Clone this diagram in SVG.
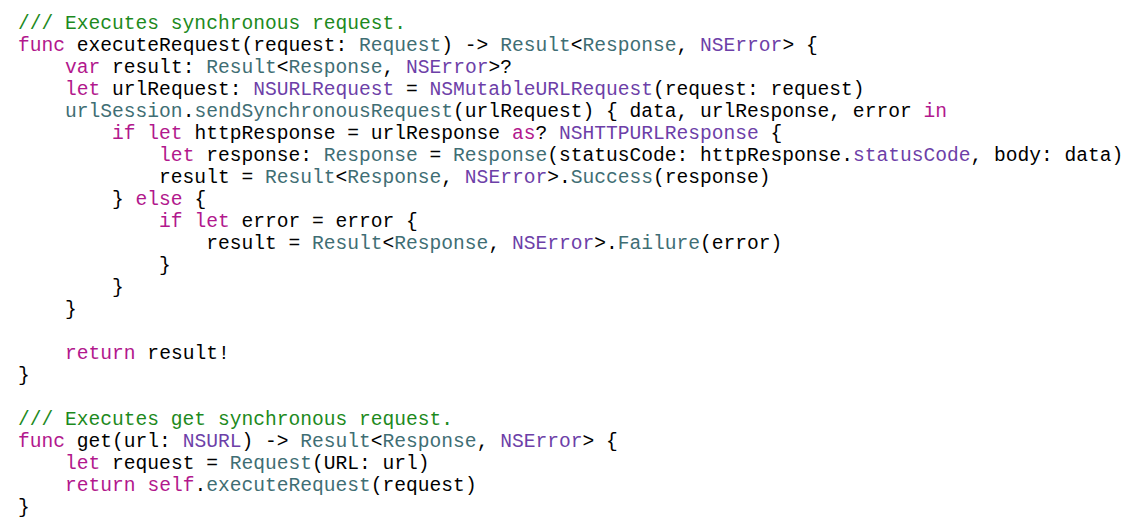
<svg xmlns="http://www.w3.org/2000/svg" width="1140" height="526" viewBox="0 0 1140 526">
<style>
text{font-family:"Liberation Mono","DejaVu Sans Mono",monospace;font-size:19.6px;fill:#000;white-space:pre}
.c{fill:#1d8a1d}.k{fill:#b2188d}.t{fill:#3f6e74}.p{fill:#6d3fa8}
</style>
<rect width="1140" height="526" fill="#fff"/>
<g id="code" xml:space="preserve">
<text x="18" y="29"><tspan class="c">/// Executes synchronous request.</tspan></text>
<text x="18" y="51"><tspan class="k">func</tspan> executeRequest(request: <tspan class="t">Request</tspan>) -&gt; <tspan class="t">Result</tspan>&lt;<tspan class="t">Response</tspan>, <tspan class="p">NSError</tspan>&gt; {</text>
<text x="18" y="73">    <tspan class="k">var</tspan> result: <tspan class="t">Result</tspan>&lt;<tspan class="t">Response</tspan>, <tspan class="p">NSError</tspan>&gt;?</text>
<text x="18" y="95">    <tspan class="k">let</tspan> urlRequest: <tspan class="p">NSURLRequest</tspan> = <tspan class="p">NSMutableURLRequest</tspan>(request: request)</text>
<text x="18" y="117">    <tspan class="t">urlSession</tspan>.<tspan class="t">sendSynchronousRequest</tspan>(urlRequest) { data, urlResponse, error <tspan class="k">in</tspan></text>
<text x="18" y="139">        <tspan class="k">if let</tspan> httpResponse = urlResponse <tspan class="k">as</tspan>? <tspan class="p">NSHTTPURLResponse</tspan> {</text>
<text x="18" y="161">            <tspan class="k">let</tspan> response: <tspan class="t">Response</tspan> = <tspan class="t">Response</tspan>(statusCode: httpResponse.<tspan class="p">statusCode</tspan>, body: data)</text>
<text x="18" y="183">            result = <tspan class="t">Result</tspan>&lt;<tspan class="t">Response</tspan>, <tspan class="p">NSError</tspan>&gt;.<tspan class="t">Success</tspan>(response)</text>
<text x="18" y="205">        } <tspan class="k">else</tspan> {</text>
<text x="18" y="227">            <tspan class="k">if let</tspan> error = error {</text>
<text x="18" y="249">                result = <tspan class="t">Result</tspan>&lt;<tspan class="t">Response</tspan>, <tspan class="p">NSError</tspan>&gt;.<tspan class="t">Failure</tspan>(error)</text>
<text x="18" y="271">            }</text>
<text x="18" y="293">        }</text>
<text x="18" y="315">    }</text>
<text x="18" y="359">    <tspan class="k">return</tspan> result!</text>
<text x="18" y="381">}</text>
<text x="18" y="425"><tspan class="c">/// Executes get synchronous request.</tspan></text>
<text x="18" y="447"><tspan class="k">func</tspan> get(url: <tspan class="p">NSURL</tspan>) -&gt; <tspan class="t">Result</tspan>&lt;<tspan class="t">Response</tspan>, <tspan class="p">NSError</tspan>&gt; {</text>
<text x="18" y="469">    <tspan class="k">let</tspan> request = <tspan class="t">Request</tspan>(URL: url)</text>
<text x="18" y="491">    <tspan class="k">return</tspan> <tspan class="k">self</tspan>.<tspan class="t">executeRequest</tspan>(request)</text>
<text x="18" y="513">}</text>
</g>
</svg>
